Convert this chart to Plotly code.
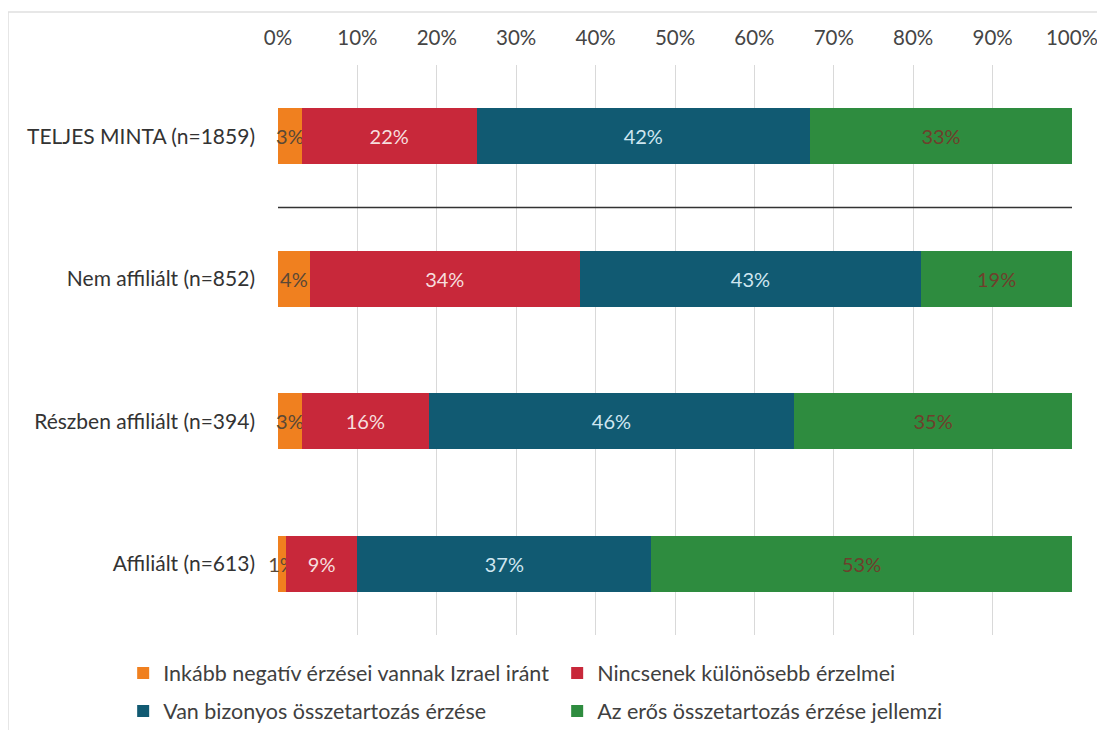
import plotly.graph_objects as go

categories = ["TELJES MINTA (n=1859)", "Nem affiliált (n=852)", "Részben affiliált (n=394)", "Affiliált (n=613)"]
series_names = ["Inkább negatív érzései vannak Izrael iránt", "Nincsenek különösebb érzelmei",
                "Van bizonyos összetartozás érzése", "Az erős összetartozás érzése jellemzi"]
negativ = [3, 4, 3, 1]
nincs = [22, 34, 16, 9]
van = [42, 43, 46, 37]
eros = [33, 19, 35, 53]
tick_vals = [0, 10, 20, 30, 40, 50, 60, 70, 80, 90, 100]
tick_text = ["0%", "10%", "20%", "30%", "40%", "50%", "60%", "70%", "80%", "90%", "100%"]

colors = ["#F0801F", "#C8283A", "#115A72", "#2E8C3F"]
text_colors = ["#5a4836", "#f6dede", "#cfe6f0", "#6e3f2c"]
legend_ids = ["legend", "legend", "legend2", "legend2"]
series = [negativ, nincs, van, eros]

FONT = "Lato, 'Open Sans', sans-serif"

fig = go.Figure()
for name, vals, c, tc, lg in zip(series_names, series, colors, text_colors, legend_ids):
    fig.add_trace(go.Bar(
        y=categories, x=vals, name=name, orientation="h",
        marker=dict(color=c, line=dict(width=0)),
        width=0.39, legend=lg, cliponaxis=False,
        text=[f"{v}%" for v in vals], textposition="inside", textangle=0,
        insidetextanchor="middle", constraintext="none",
        textfont=dict(color=tc, size=20, family=FONT),
        hoverinfo="skip",
    ))

legend_common = dict(orientation="h", xanchor="left", yanchor="middle",
                     traceorder="normal", entrywidth=389, entrywidthmode="pixels",
                     itemwidth=30, font=dict(size=21.5, color="#404040", family=FONT),
                     bgcolor="rgba(0,0,0,0)")

fig.update_layout(
    barmode="stack",
    width=1097, height=722,
    paper_bgcolor="white", plot_bgcolor="white",
    margin=dict(l=270, r=33, t=57, b=95, autoexpand=False),
    font=dict(family=FONT, color="#404040", size=20),
    showlegend=True,
    legend=dict(x=-0.195, y=-0.0667, **legend_common),
    legend2=dict(x=-0.195, y=-0.1333, **legend_common),
    uniformtext=dict(mode="show", minsize=8),
)
fig.update_xaxes(side="top", range=[0, 100], tickvals=tick_vals, ticktext=tick_text,
                 showgrid=True, gridcolor="#d9d9d9", gridwidth=1, zeroline=False,
                 showline=False, ticks="", ticklabelstandoff=15,
                 tickfont=dict(size=20.5, color="#454545"), fixedrange=True)
fig.update_yaxes(range=[3.5, -0.5], showgrid=False, zeroline=False, showline=False,
                 ticks="", ticklabelstandoff=22, tickfont=dict(size=21, color="#333333"))

fig.add_shape(type="line", xref="x", yref="y", x0=0, x1=100, y0=0.5, y1=0.5,
              line=dict(color="#333333", width=1.5))
fig.add_shape(type="rect", xref="paper", yref="paper",
              x0=-0.34, x1=1.06, y0=-0.2, y1=1.093,
              line=dict(color="#e0e0e0", width=1.5), fillcolor="rgba(0,0,0,0)", layer="below")

fig.write_html("out.html")
